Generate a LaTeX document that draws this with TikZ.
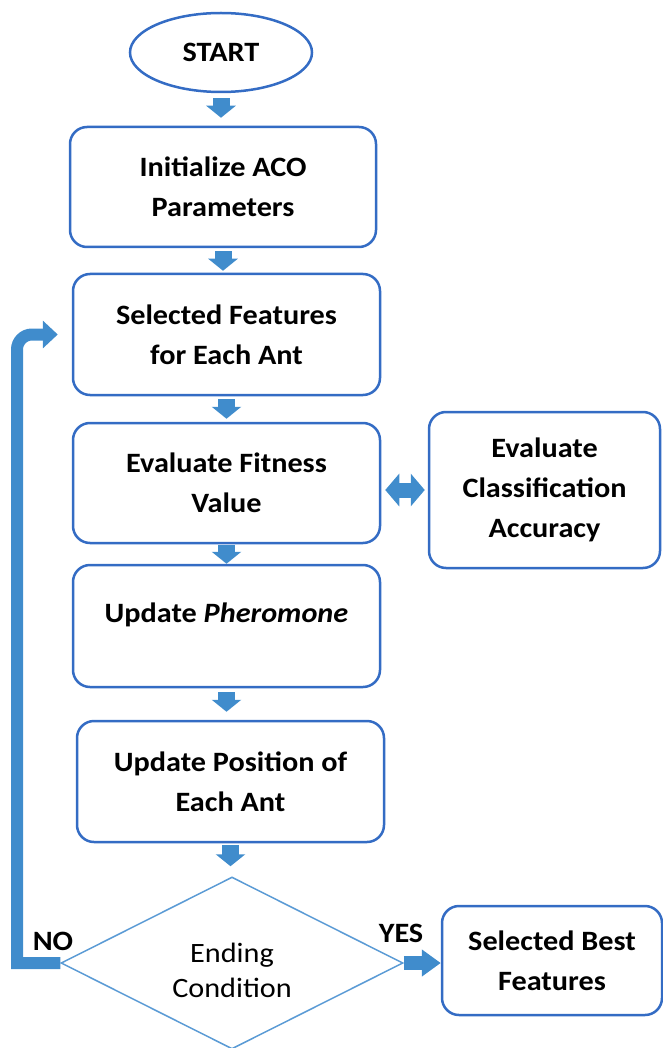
\documentclass[tikz,border=0pt]{standalone}
\usepackage{fontspec}
\setmainfont{Carlito}[FakeStretch=1.08]
\usetikzlibrary{shapes.geometric,arrows.meta}
\definecolor{boxblue}{RGB}{52,108,196}
\definecolor{arrblue}{RGB}{64,140,204}
\definecolor{diablue}{RGB}{91,155,213}
\begin{document}
\begin{tikzpicture}[x=1pt,y=-1pt,
  every node/.style={font=\fontsize{28}{40}\selectfont\bfseries, text=black},
  box/.style={draw=boxblue, line width=2.5pt, rounded corners=17pt, fill=white, align=center, inner sep=0pt},
  dnarrow/.style={draw=arrblue, line width=17pt, -{Triangle[width=29pt,length=12pt]}},
  dblarrow/.style={draw=arrblue, line width=15pt, {Triangle[width=32pt,length=14pt]}-{Triangle[width=32pt,length=14pt]}},
  yesarrow/.style={draw=arrblue, line width=14pt, -{Triangle[width=26pt,length=19pt]}},
  fbarrow/.style={draw=arrblue, line width=12pt, -{Triangle[width=27pt,length=15pt]}}
]
\useasboundingbox (0,0) rectangle (663,1048);

\node[ellipse, draw=boxblue, line width=2.5pt, minimum width=182pt, minimum height=79pt, inner sep=0pt] (start) at (221,52.5) {START};
\node[box, minimum width=306pt, minimum height=120pt] (init) at (223,187) {Initialize ACO\\Parameters};
\node[box, minimum width=307pt, minimum height=121pt] (sel) at (226.5,334.5) {Selected Features\\for Each Ant};
\node[box, minimum width=307pt, minimum height=120pt] (fit) at (226.5,483) {Evaluate Fitness\\Value};
\node[box, minimum width=231pt, minimum height=156pt] (cls) at (544.5,490) {Evaluate\\Classification\\Accuracy};
\node[box, minimum width=307pt, minimum height=122pt] (pher) at (226.5,626) {};
\node[anchor=base] (phertext) at (226.5,622) {Update \textit{Pheromone}};
\node[box, minimum width=307pt, minimum height=121pt] (pos) at (230.5,781.5) {Update Position of\\Each Ant};
\node[diamond, draw=diablue, line width=1.5pt, aspect=2, minimum width=342pt, minimum height=172pt, inner sep=0pt] (dec) at (232,963) {};
\node[align=center, font=\fontsize{28}{35}\selectfont\mdseries] (dectext) at (232,970) {Ending\\Condition};
\node[box, minimum width=220pt, minimum height=109pt] (best) at (552,960.5) {Selected Best\\Features};

\node[anchor=base] (no) at (53,950) {NO};
\node[anchor=base] (yes) at (401,942) {YES};

\coordinate (fbx) at (17,0);

\draw[dnarrow, shorten <=5pt, shorten >=8pt] (start.south) -- (start.south |- init.north);
\draw[dnarrow, shorten <=3pt, shorten >=2pt] (init.south) -- (init.south |- sel.north);
\draw[dnarrow, shorten <=3pt, shorten >=3pt] (sel.south) -- (sel.south |- fit.north);
\draw[dnarrow, shorten <=1pt, shorten >=0pt] (fit.south) -- (fit.south |- pher.north);
\draw[dnarrow, shorten <=4pt, shorten >=8pt] (pher.south) -- (pher.south |- pos.north);
\draw[dnarrow, shorten <=2pt, shorten >=10pt] (pos.south) -- (pos.south |- dec.north);

\draw[dblarrow, shorten <=4pt, shorten >=3pt] (cls.west -| fit.east) -- (cls.west);
\draw[yesarrow] (dec.east) -- (dec.east -| best.west);
\draw[fbarrow, shorten >=14pt] (dec.west) -- (dec.west -| fbx) [rounded corners=15pt] -- (fbx |- sel.west) -- (sel.west);
\end{tikzpicture}
\end{document}
